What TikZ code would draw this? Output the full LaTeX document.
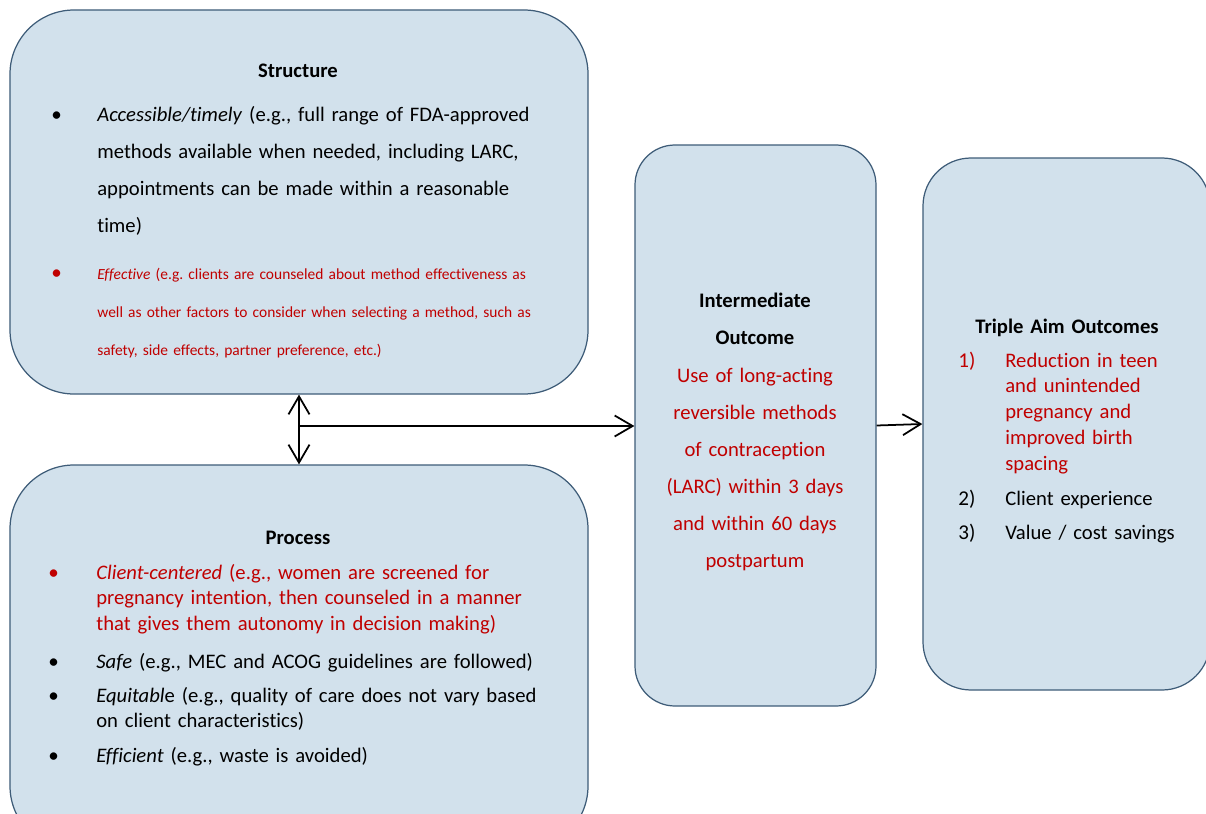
\documentclass[tikz,border=0pt]{standalone}
\usepackage{fontspec}
\setmainfont[Ligatures=CommonOff]{Carlito}
\usetikzlibrary{arrows.meta}
\frenchspacing

\definecolor{boxfill}{RGB}{210,225,236}
\definecolor{boxline}{RGB}{62,92,120}
\definecolor{darkred}{RGB}{192,0,0}

\tikzset{
  box/.style={draw=boxline, fill=boxfill, line width=0.7pt},
  title/.style={anchor=base, inner sep=0pt, text width=5cm, align=center, font=\fontsize{11.75}{21.1}\selectfont\bfseries},
  txt/.style={anchor=base west, inner sep=0pt, text width=9.5cm, align=left, font=\fontsize{11.75}{14.7}\selectfont},
  wide/.style={font=\fontsize{11.75}{21.1}\selectfont},
  small/.style={font=\fontsize{8.8}{21.8}\selectfont},
  bul/.style={anchor=base west, inner sep=0pt, font=\fontsize{12}{14.7}\selectfont},
  link/.style={line width=1pt, -{Straight Barb[length=0.36cm, width=0.42cm]}},
  dlink/.style={line width=1pt, {Straight Barb[length=0.36cm, width=0.42cm]}-{Straight Barb[length=0.36cm, width=0.42cm]}}
}

\begin{document}
\begin{tikzpicture}
\clip (0,0) rectangle (24.12,-16.28);

% boxes
\node[box, rounded corners=1.28cm, minimum width=11.56cm, minimum height=7.68cm] (struct) at (5.98,-4.04) {};
\node[box, rounded corners=1.28cm, minimum width=11.56cm, minimum height=7.7cm] (proc) at (5.98,-13.15) {};
\node[box, rounded corners=0.8cm, minimum width=4.82cm, minimum height=11.22cm] (inter) at (15.11,-8.51) {};
\node[box, rounded corners=0.96cm, minimum width=5.74cm, minimum height=10.64cm] (trip) at (21.33,-8.48) {};

% Structure
\node[title] (stitle) at (5.96,-1.54) {Structure};
\node[bul] (sb1) at (1.02,-2.42) {\textbullet};
\node[txt, wide] (s1) at (1.94,-2.42) {\textit{Accessible/timely} (e.g., full range of FDA-approved\\methods available when needed, including LARC,\\appointments can be made within a reasonable\\time)};
\node[bul, darkred] (sb2) at (1.02,-5.58) {\textbullet};
\node[txt, small, darkred] (s2) at (1.94,-5.58) {\textit{Effective} (e.g. clients are counseled about method effectiveness as\\well as other factors to consider when selecting a method, such as\\safety, side effects, partner preference, etc.)};

% Process
\node[title] (ptitle) at (5.96,-10.88) {Process};
\node[bul, darkred] (pb1) at (0.96,-11.58) {\textbullet};
\node[txt, darkred] (p1) at (1.92,-11.58) {\textit{Client-centered} (e.g., women are screened for\\pregnancy intention, then counseled in a manner\\that gives them autonomy in decision making)};
\node[bul] (pb2) at (0.96,-13.36) {\textbullet};
\node[txt] (p2) at (1.92,-13.36) {\textit{Safe} (e.g., MEC and ACOG guidelines are followed)};
\node[bul] (pb3) at (0.96,-14.04) {\textbullet};
\node[txt] (p3) at (1.92,-14.04) {\textit{Equitabl}e (e.g., quality of care does not vary based\\on client characteristics)};
\node[bul] (pb4) at (0.96,-15.24) {\textbullet};
\node[txt] (p4) at (1.92,-15.24) {\textit{Efficient} (e.g., waste is avoided)};

% Intermediate outcome
\node[title] (ititle) at (15.1,-6.14) {Intermediate\\Outcome};
\node[title, font=\fontsize{11.75}{21.1}\selectfont, darkred] (ibody) at (15.1,-7.64) {Use of long-acting\\reversible methods\\of contraception\\(LARC) within 3 days\\and within 60 days\\postpartum};

% Triple aim
\node[title] (ttitle) at (21.34,-6.66) {Triple Aim Outcomes};
\node[bul, darkred] (tn1) at (19.16,-7.34) {1)};
\node[txt, text width=4cm, darkred] (t1) at (20.1,-7.34) {Reduction in teen\\and unintended\\pregnancy and\\improved birth\\spacing};
\node[bul] (tn2) at (19.16,-10.1) {2)};
\node[txt, text width=4cm] (t2) at (20.1,-10.1) {Client experience};
\node[bul] (tn3) at (19.16,-10.78) {3)};
\node[txt, text width=4cm] (t3) at (20.1,-10.78) {Value / cost savings};

% arrows
\coordinate (mid) at (5.96,-8.52);
\draw[dlink] (struct.south) -- (proc.north);
\draw[link] (mid) -- (mid -| inter.west);
\draw[link] (inter.east) -- (trip.west);
\end{tikzpicture}
\end{document}
